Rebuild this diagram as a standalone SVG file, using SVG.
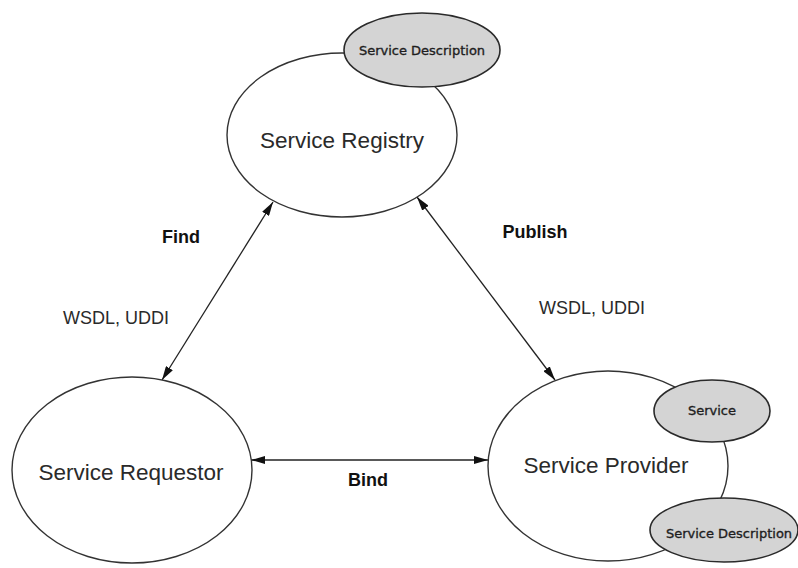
<svg xmlns="http://www.w3.org/2000/svg" width="798" height="568" viewBox="0 0 798 568">
  <style>
    .node { fill: #ffffff; stroke: #333333; stroke-width: 1.4; }
    .sub { fill: #d4d4d4; stroke: #2a2a2a; stroke-width: 1.6; }
    .big { font-family: "Liberation Sans", Arial, sans-serif; font-size: 22.5px; fill: #2a2a2a; text-anchor: middle; dominant-baseline: central; }
    .small { font-family: "DejaVu Sans", sans-serif; font-size: 13px; fill: #1e1e1e; stroke: #1e1e1e; stroke-width: 0.35; text-anchor: middle; dominant-baseline: central; }
    .verb { font-family: "Liberation Sans", Arial, sans-serif; font-size: 18px; font-weight: bold; fill: #111111; text-anchor: middle; dominant-baseline: central; }
    .proto { font-family: "Liberation Sans", Arial, sans-serif; font-size: 18px; fill: #2a2a2a; text-anchor: middle; dominant-baseline: central; }
    .link { fill: none; stroke: #222222; stroke-width: 1.3; marker-start: url(#head); marker-end: url(#head); }
  </style>
  <defs>
    <marker id="head" viewBox="0 0 14 8" refX="14" refY="4" markerWidth="14" markerHeight="8" markerUnits="userSpaceOnUse" orient="auto-start-reverse">
      <path d="M0,0 L14,4 L0,8 z" fill="#111111"/>
    </marker>
  </defs>

  <rect width="798" height="568" fill="#ffffff"/>

  <!-- connectors -->
  <g id="connectors">
    <line class="link" x1="273" y1="202" x2="162" y2="380"/>
    <line class="link" x1="417" y1="197" x2="555" y2="380"/>
    <line class="link" x1="251" y1="460" x2="488" y2="460"/>
    <text class="verb" x="181" y="237">Find</text>
    <text class="proto" x="116" y="318">WSDL, UDDI</text>
    <text class="verb" x="535" y="232">Publish</text>
    <text class="proto" x="592" y="308">WSDL, UDDI</text>
    <text class="verb" x="368" y="480">Bind</text>
  </g>

  <!-- registry with its service description -->
  <g id="registry">
    <ellipse class="node" cx="342" cy="135" rx="115" ry="82"/>
    <text class="big" x="342" y="140">Service Registry</text>
  </g>
  <g id="registry-description">
    <ellipse class="sub" cx="422" cy="50" rx="78" ry="37"/>
    <text class="small" x="422" y="50">Service Description</text>
  </g>

  <!-- requestor -->
  <g id="requestor">
    <ellipse class="node" cx="132" cy="470" rx="120" ry="93"/>
    <text class="big" x="131" y="472">Service Requestor</text>
  </g>

  <!-- provider with its service and description -->
  <g id="provider">
    <ellipse class="node" cx="608" cy="466" rx="120" ry="95"/>
    <text class="big" x="606" y="465">Service Provider</text>
  </g>
  <g id="provider-service">
    <ellipse class="sub" cx="712" cy="411" rx="58" ry="31"/>
    <text class="small" x="712" y="410">Service</text>
  </g>
  <g id="provider-description">
    <ellipse class="sub" cx="724" cy="530" rx="74" ry="32"/>
    <text class="small" x="729" y="533">Service Description</text>
  </g>
</svg>
